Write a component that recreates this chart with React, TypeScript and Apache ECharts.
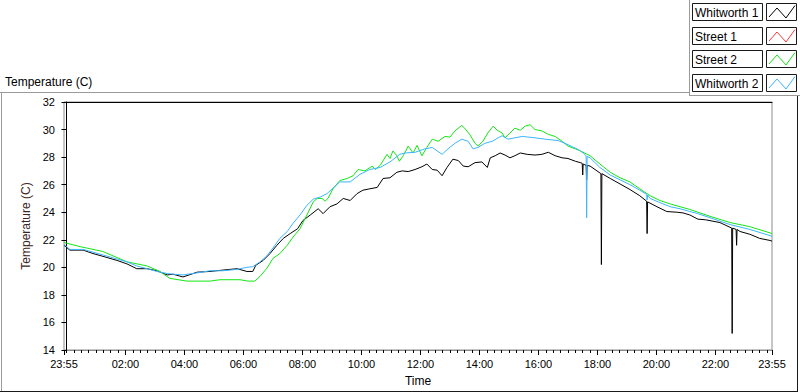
import React, { useEffect, useRef } from "react";
import * as echarts from "echarts";

// ---- data (minutes from midnight, temperature °C) ----
const seriesNames = ["Whitworth 1", "Street 1", "Street 2", "Whitworth 2"];
const seriesColors = ["#000000", "#ff3a3a", "#14e614", "#3cb4ff"];

const xTickMinutes = [-5, 120, 240, 360, 480, 600, 720, 840, 960, 1080, 1200, 1320, 1435];
const xTickLabels = ["23:55", "02:00", "04:00", "06:00", "08:00", "10:00", "12:00", "14:00", "16:00", "18:00", "20:00", "22:00", "23:55"];

const whitworth1: [number, number][] = [
  [-5, 21.6], [7, 21.25], [34, 21.25], [54, 21.0], [74, 20.8], [103, 20.5], [123, 20.25], [143, 19.9],
  [164, 19.9], [184, 19.75], [205, 19.45], [217, 19.5], [237, 19.3], [266, 19.65], [292, 19.7], [318, 19.8],
  [347, 19.9], [367, 19.7], [379, 19.7], [385, 20.15], [400, 20.5], [414, 21.0], [428, 21.6], [441, 22.1],
  [455, 22.45], [470, 22.8], [481, 23.4], [496, 23.8], [512, 24.25], [522, 23.9], [536, 24.4], [550, 24.6],
  [563, 25.0], [577, 24.85], [591, 25.35], [603, 25.6], [617, 25.7], [632, 25.8], [644, 26.45], [658, 26.5],
  [672, 26.9], [683, 27.0], [695, 26.95], [709, 27.1], [723, 27.3], [733, 27.5], [744, 27.1], [754, 27.05],
  [764, 26.65], [774, 27.25], [786, 27.85], [797, 27.75], [807, 27.35], [817, 27.3], [831, 27.6], [845, 27.65],
  [856, 27.25], [862, 27.95], [872, 28.1], [882, 28.3], [892, 28.15], [902, 27.95], [912, 28.1], [923, 28.3],
  [937, 28.2], [953, 28.15], [967, 28.2], [980, 28.35], [994, 28.1], [1008, 27.95], [1020, 27.9], [1035, 27.7],
  [1045, 27.6], [1049, 27.55], [1050, 26.7], [1051, 27.5], [1057, 27.4], [1058, 26.35], [1059, 27.4],
  [1065, 27.35], [1075, 27.1], [1087, 26.8], [1088, 20.2], [1089, 26.8], [1106, 26.45], [1126, 26.05],
  [1146, 25.65], [1166, 25.2], [1180, 24.8], [1181, 22.45], [1182, 24.75], [1201, 24.4], [1221, 24.05],
  [1242, 24.0], [1254, 23.95], [1268, 23.8], [1284, 23.5], [1300, 23.45], [1329, 23.25], [1353, 22.85],
  [1354, 15.2], [1355, 22.85], [1362, 22.75], [1363, 21.6], [1364, 22.75], [1370, 22.6], [1390, 22.4],
  [1410, 22.1], [1431, 21.95], [1435, 21.9],
];

const street1: [number, number][] = [];

const street2: [number, number][] = [
  [-5, 21.8], [28, 21.5], [74, 21.15], [123, 20.4], [164, 20.1], [190, 19.7], [210, 19.2], [245, 19.0],
  [292, 19.0], [312, 19.1], [353, 19.1], [369, 19.0], [383, 19.0], [394, 19.35], [408, 19.95], [420, 20.65],
  [434, 21.0], [449, 21.6], [461, 22.2], [475, 22.8], [489, 23.8], [502, 24.75], [510, 25.0], [520, 25.0],
  [526, 24.8], [532, 25.0], [542, 25.7], [556, 26.3], [571, 26.45], [583, 26.65], [593, 27.1], [607, 27.0],
  [622, 27.35], [628, 27.1], [638, 27.4], [652, 28.2], [658, 27.9], [664, 28.45], [672, 28.1], [677, 27.7],
  [685, 28.1], [695, 28.8], [705, 28.3], [713, 28.85], [723, 28.1], [733, 28.7], [744, 29.3], [756, 29.15],
  [770, 29.5], [780, 29.45], [790, 29.9], [804, 30.3], [810, 30.1], [821, 29.6], [831, 29.0], [837, 28.8],
  [847, 29.15], [857, 29.75], [868, 30.25], [876, 29.95], [886, 29.75], [892, 29.4], [902, 29.75], [912, 30.1],
  [923, 29.95], [933, 30.25], [943, 30.35], [953, 30.0], [967, 29.9], [980, 29.65], [994, 29.5], [1008, 29.15],
  [1020, 28.8], [1035, 28.6], [1045, 28.45], [1065, 28.1], [1085, 27.5], [1106, 26.9], [1126, 26.5],
  [1146, 26.2], [1166, 25.7], [1187, 25.2], [1207, 24.85], [1228, 24.6], [1248, 24.4], [1268, 24.2],
  [1309, 23.7], [1350, 23.25], [1390, 22.95], [1431, 22.5], [1435, 22.45],
];

const whitworth2: [number, number][] = [
  [-5, 21.65], [7, 21.3], [34, 21.3], [54, 21.1], [74, 20.9], [103, 20.6], [123, 20.4], [143, 20.1],
  [164, 19.9], [184, 19.7], [205, 19.55], [217, 19.5], [237, 19.45], [266, 19.6], [292, 19.75], [318, 19.75],
  [347, 19.85], [367, 20.0], [379, 20.05], [394, 20.4], [408, 20.85], [420, 21.4], [434, 22.1], [449, 22.6],
  [461, 23.2], [475, 23.8], [489, 24.5], [502, 24.95], [516, 25.1], [530, 25.35], [542, 25.75], [556, 26.2],
  [577, 26.2], [597, 26.75], [617, 27.1], [638, 27.25], [658, 27.65], [678, 28.2], [689, 28.3], [709, 28.35],
  [729, 28.6], [744, 28.7], [764, 28.2], [776, 28.6], [790, 29.0], [804, 29.3], [817, 29.15], [827, 28.6],
  [837, 28.7], [851, 29.0], [866, 29.15], [878, 29.4], [886, 29.55], [898, 29.3], [912, 29.4], [927, 29.5],
  [953, 29.4], [974, 29.3], [1000, 29.2], [1014, 29.0], [1029, 28.75], [1041, 28.55], [1051, 28.3],
  [1057, 28.1], [1058, 23.6], [1059, 28.05], [1065, 27.95], [1085, 27.25], [1106, 26.7], [1126, 26.35],
  [1146, 26.0], [1166, 25.6], [1180, 25.3], [1181, 24.9], [1182, 25.25], [1187, 25.0], [1207, 24.7],
  [1228, 24.4], [1248, 24.25], [1268, 24.05], [1284, 23.9], [1309, 23.6], [1350, 23.1], [1390, 22.75],
  [1431, 22.3], [1435, 22.25],
];

const seriesData = [whitworth1, street1, street2, whitworth2];

const FONT = '"Liberation Sans", Arial, sans-serif';

export default function App() {
  const ref = useRef<HTMLDivElement>(null);

  useEffect(() => {
    document.body.style.margin = "0";
    if (!ref.current) return;
    const chart = echarts.init(ref.current, undefined, { renderer: "svg" });

    const minorTicks: number[] = [];
    for (let m = 0; m <= 1425; m += 15) minorTicks.push(m);

    const labelMap: Record<string, string> = {};
    xTickMinutes.forEach((m, i) => (labelMap[String(m)] = xTickLabels[i]));

    const legendTops = [3, 27, 50, 74];
    const legendGraphics: any[] = [];
    seriesNames.forEach((name, i) => {
      const t = legendTops[i];
      legendGraphics.push(
        {
          type: "rect",
          shape: { x: 692.5, y: t + 0.5, width: 70, height: 17 },
          style: { fill: "#fff", stroke: "#1a1a1a", lineWidth: 1 },
        },
        {
          type: "text",
          x: 695,
          y: t + 9.5,
          style: { text: name, font: `12px ${FONT}`, fill: "#000", verticalAlign: "middle", align: "left" },
        },
        {
          type: "rect",
          shape: { x: 766.5, y: t + 0.5, width: 30, height: 17 },
          style: { fill: "#fff", stroke: "#1a1a1a", lineWidth: 1 },
        },
        {
          type: "polyline",
          shape: { points: [[769, t + 14], [777, t + 5], [786, t + 15], [795, t + 2.5]] },
          style: { stroke: seriesColors[i], fill: "none", lineWidth: 1 },
        }
      );
    });

    const option: any = {
      animation: false,
      backgroundColor: "#fff",
      grid: {
        left: 64,
        right: 28,
        top: 102,
        bottom: 39,
        show: true,
        borderColor: "#8c8c8c",
        borderWidth: 1,
        backgroundColor: "#fff",
      },
      xAxis: [
        {
          type: "value",
          min: -5,
          max: 1435,
          position: "bottom",
          name: "Time",
          nameLocation: "middle",
          nameGap: 25,
          nameTextStyle: { fontFamily: FONT, fontSize: 12, color: "#000" },
          axisLine: { show: true, lineStyle: { color: "#8c8c8c", width: 1 } },
          axisTick: {
            show: true,
            customValues: [-5, ...xTickMinutes.slice(1)],
            length: 5,
            lineStyle: { color: "#000" },
          },
          axisLabel: {
            customValues: xTickMinutes,
            formatter: (v: number) => labelMap[String(v)] ?? "",
            fontFamily: FONT,
            fontSize: 11,
            color: "#000",
            margin: 8,
          },
          splitLine: { show: false },
        },
        {
          type: "value",
          min: -5,
          max: 1435,
          position: "bottom",
          axisLine: { show: false },
          axisTick: { show: true, customValues: minorTicks, length: 3, lineStyle: { color: "#000" } },
          axisLabel: { show: false },
          splitLine: { show: false },
        },
        {
          type: "value",
          min: -5,
          max: 1435,
          position: "top",
          axisLine: { show: true, lineStyle: { color: "#000", width: 1 } },
          axisTick: { show: false },
          axisLabel: { show: false },
          splitLine: { show: false },
        },
      ],
      yAxis: {
        type: "value",
        min: 14,
        max: 32,
        interval: 2,
        name: "Temperature (C)",
        nameLocation: "middle",
        nameGap: 25,
        nameTextStyle: { fontFamily: FONT, fontSize: 12, color: "#3b2626" },
        axisLine: { show: true, lineStyle: { color: "#000", width: 1 } },
        axisTick: { show: true, length: 5, lineStyle: { color: "#000" } },
        axisLabel: { fontFamily: FONT, fontSize: 11, color: "#000", margin: 9 },
        splitLine: { show: false },
      },
      series: seriesNames.map((name, i) => ({
        name,
        type: "line",
        xAxisIndex: 0,
        data: seriesData[i],
        showSymbol: false,
        symbol: "none",
        lineStyle: { color: seriesColors[i], width: 1 },
        itemStyle: { color: seriesColors[i] },
        z: 2 + i,
      })),
      graphic: [
        { type: "line", shape: { x1: 0, y1: 92.5, x2: 689, y2: 92.5 }, style: { stroke: "#9a9a9a", lineWidth: 1 } },
        { type: "line", shape: { x1: 1.5, y1: 92, x2: 1.5, y2: 391 }, style: { stroke: "#9a9a9a", lineWidth: 1 } },
        { type: "line", shape: { x1: 0, y1: 391.5, x2: 798, y2: 391.5 }, style: { stroke: "#1a1a1a", lineWidth: 1 } },
        { type: "line", shape: { x1: 797.5, y1: 95, x2: 797.5, y2: 392 }, style: { stroke: "#1a1a1a", lineWidth: 1 } },
        { type: "line", shape: { x1: 689.5, y1: 0, x2: 689.5, y2: 95 }, style: { stroke: "#9a9a9a", lineWidth: 1 } },
        { type: "line", shape: { x1: 689, y1: 95.5, x2: 800, y2: 95.5 }, style: { stroke: "#9a9a9a", lineWidth: 1 } },
        {
          type: "text",
          x: 5,
          y: 82,
          style: { text: "Temperature (C)", font: `12px ${FONT}`, fill: "#000", verticalAlign: "middle" },
        },
        ...legendGraphics,
      ],
    };

    chart.setOption(option);
    return () => chart.dispose();
  }, []);

  return <div ref={ref} style={{ width: 800, height: 392 }} />;
}
